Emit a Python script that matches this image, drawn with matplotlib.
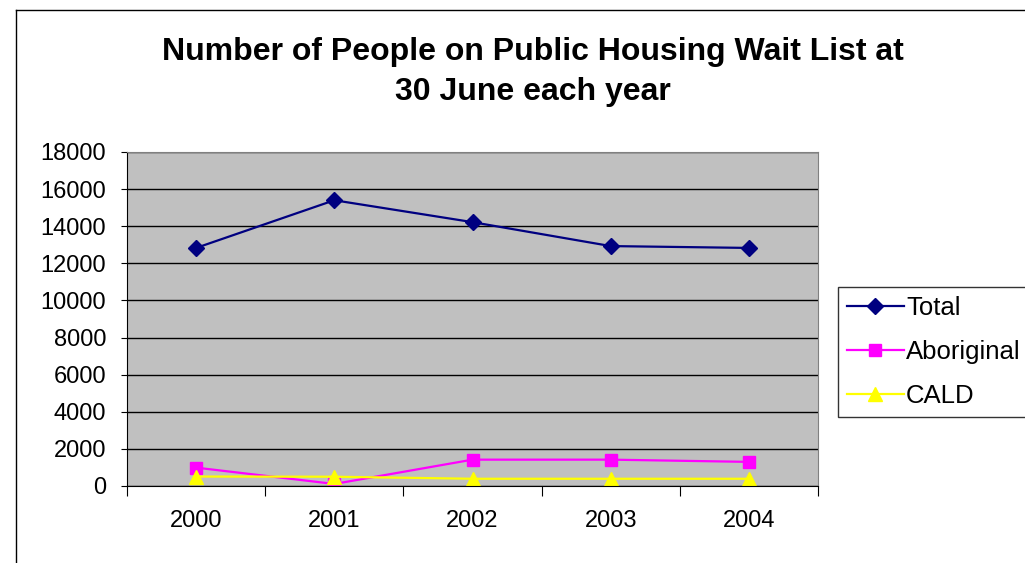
import matplotlib.pyplot as plt
from matplotlib.lines import Line2D
import numpy as np

plt.rcParams['font.family'] = ['Liberation Sans', 'DejaVu Sans']

years = ['2000', '2001', '2002', '2003', '2004']
total = [12830, 15400, 14220, 12930, 12830]
aboriginal = [990, 110, 1420, 1420, 1300]
cald = [510, 500, 390, 390, 390]

W, H = 1025, 563
fig = plt.figure(figsize=(W / 100, H / 100), dpi=100)

# outer chart frame (runs off the right and bottom edges)
fig.add_artist(Line2D([16 / W, 16 / W], [0, 1 - 10 / H], color='black', lw=1))
fig.add_artist(Line2D([16 / W, 1], [1 - 10 / H, 1 - 10 / H], color='black', lw=1))

ax = fig.add_axes([127 / W, 1 - 486 / H, (818 - 127) / W, (486 - 152) / H])
ax.set_facecolor('#C0C0C0')

x = np.arange(len(years))
ax.plot(x, total, color='#000080', lw=1.6, marker='D', ms=8.5, label='Total')
ax.plot(x, aboriginal, color='#FF00FF', lw=1.6, marker='s', ms=8.5, label='Aboriginal')
ax.plot(x, cald, color='#FFFF00', lw=1.6, marker='^', ms=10, label='CALD')

ax.set_xlim(-0.5, len(years) - 0.5)
ax.set_ylim(0, 18000)
ax.set_yticks(np.arange(0, 18001, 2000))
ax.yaxis.grid(True, color='black', lw=1)
ax.set_axisbelow(True)

ax.set_xticks(np.arange(-0.5, len(years), 1))
ax.set_xticklabels([])
ax.set_xticks(x, minor=True)
ax.set_xticklabels(years, minor=True)
ax.tick_params(axis='x', which='major', length=7, direction='out', color='black')
ax.tick_params(axis='x', which='minor', length=0, pad=17, labelsize=17)
ax.tick_params(axis='y', length=4, direction='out', labelsize=17, pad=11)

for side in ('top', 'right'):
    ax.spines[side].set_color('#808080')
for side in ('left', 'bottom'):
    ax.spines[side].set_color('black')

fig.text(533 / W, 1 - 52 / H, 'Number of People on Public Housing Wait List at',
         ha='center', va='center', fontsize=23, fontweight='bold')
fig.text(533 / W, 1 - 92 / H, '30 June each year',
         ha='center', va='center', fontsize=23, fontweight='bold')

leg = fig.legend(loc='upper left', bbox_to_anchor=(838 / W, 1 - 287 / H),
                 fontsize=18.5, frameon=True, fancybox=False, edgecolor='black',
                 handlelength=2.2, handletextpad=0.1, borderpad=0.35, labelspacing=0.78,
                 borderaxespad=0)
leg.get_frame().set_linewidth(1)

fig.savefig('out.png', dpi=100, facecolor='white')
